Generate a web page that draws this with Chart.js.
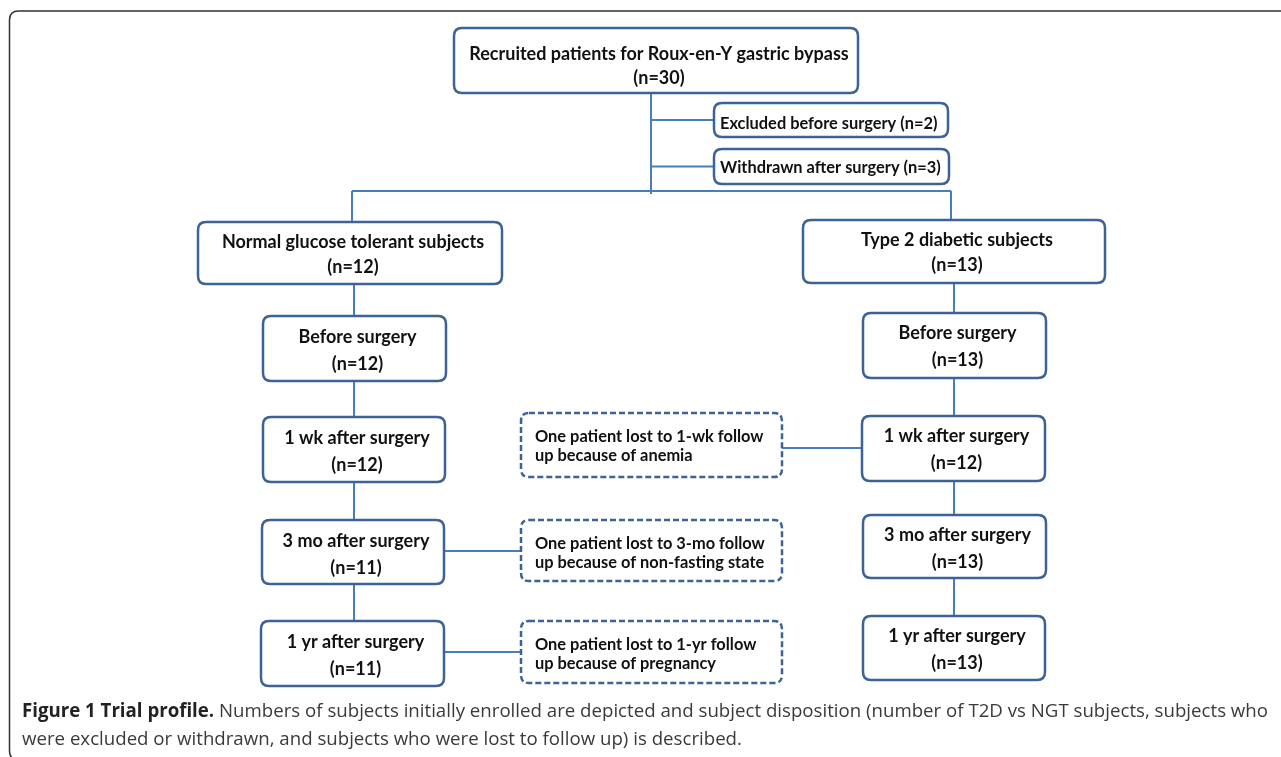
<!DOCTYPE html>
<html>
<head>
<meta charset="utf-8">
<title>Trial profile</title>
<script src="https://cdn.jsdelivr.net/npm/chart.js@4.4.1/dist/chart.umd.min.js"></script>
<style>
  html, body { margin: 0; padding: 0; background: #fff; }
  #wrap { width: 1281px; height: 757px; }
</style>
</head>
<body>
<div id="wrap"><canvas id="flow" width="1281" height="757"></canvas></div>
<script>
// data
var recruited = 30;
var excluded = 2;
var withdrawn = 3;
var groups = ['Normal glucose tolerant subjects', 'Type 2 diabetic subjects'];
var groupCounts = [12, 13];
var stages = ['Before surgery', '1 wk after surgery', '3 mo after surgery', '1 yr after surgery'];
var ngtCounts = [12, 12, 11, 11];
var t2dCounts = [13, 12, 13, 13];
var lostNotes = [
  ['One patient lost to 1-wk follow', 'up because of anemia'],
  ['One patient lost to 3-mo follow', 'up because of non-fasting state'],
  ['One patient lost to 1-yr follow', 'up because of pregnancy']
];
var captionBold = 'Figure 1 Trial profile.';
var captionText = [
  ' Numbers of subjects initially enrolled are depicted and subject disposition (number of T2D vs NGT subjects, subjects who',
  'were excluded or withdrawn, and subjects who were lost to follow up) is described.'
];

// layout (in axis units, axes run 0..1281 and 0..757)
var topBox = {x: 454, y: 28, w: 404, h: 65};
var exclBox = {x: 714, y: 103, w: 234, h: 34};
var withBox = {x: 714, y: 149, w: 235, h: 35};
var headBoxes = [{x: 198, y: 222, w: 304, h: 62}, {x: 803, y: 220, w: 302, h: 63}];
var ngtBoxes = [
  {x: 263, y: 316, w: 183, h: 65}, {x: 263, y: 417, w: 182, h: 65},
  {x: 262, y: 520, w: 182, h: 64}, {x: 261, y: 621, w: 183, h: 65}
];
var t2dBoxes = [
  {x: 863, y: 313, w: 183, h: 65}, {x: 862, y: 416, w: 183, h: 65},
  {x: 863, y: 515, w: 183, h: 63}, {x: 863, y: 616, w: 182, h: 64}
];
var noteBoxes = [
  {x: 521, y: 413, w: 261, h: 64}, {x: 521, y: 520, w: 261, h: 61}, {x: 521, y: 621, w: 261, h: 62}
];
var spineX = 651, splitY = 191, ngtX = 354, t2dX = 954;
var captionWidth = 1246;

var boxColor = '#3d6294';
var lineColor = '#4a7ebb';
var boxFont = 'bold 18px Lato, "Open Sans", sans-serif';
var smallFont = 'bold 16.4px Lato, "Open Sans", sans-serif';

function pt(x, y) { return {x: x, y: y}; }
function midY(b) { return b.y + b.h / 2; }

// connector lines, built from the boxes
var segs = [];
segs.push([pt(spineX, topBox.y + topBox.h), pt(spineX, splitY + 3)]);
segs.push([pt(spineX, midY(exclBox)), pt(exclBox.x, midY(exclBox))]);
segs.push([pt(spineX, midY(withBox)), pt(withBox.x, midY(withBox))]);
segs.push([pt(352, splitY), pt(951, splitY)]);
segs.push([pt(352, splitY), pt(352, headBoxes[0].y)]);
segs.push([pt(951, splitY), pt(951, headBoxes[1].y)]);
segs.push([pt(ngtX, headBoxes[0].y + headBoxes[0].h), pt(ngtX, ngtBoxes[3].y)]);
segs.push([pt(t2dX, headBoxes[1].y + headBoxes[1].h), pt(t2dX, t2dBoxes[3].y)]);
segs.push([pt(noteBoxes[0].x + noteBoxes[0].w, 448), pt(t2dBoxes[1].x, 448)]);
segs.push([pt(ngtBoxes[2].x + ngtBoxes[2].w, 551), pt(noteBoxes[1].x, 551)]);
segs.push([pt(ngtBoxes[3].x + ngtBoxes[3].w, 652), pt(noteBoxes[2].x, 652)]);

var datasets = segs.map(function(s) {
  return {data: s, showLine: true, borderColor: lineColor, borderWidth: 2, pointRadius: 0, fill: false};
});

function rr(ctx, x, y, w, h, r) {
  ctx.beginPath();
  ctx.moveTo(x + r, y);
  ctx.lineTo(x + w - r, y);
  ctx.quadraticCurveTo(x + w, y, x + w, y + r);
  ctx.lineTo(x + w, y + h - r);
  ctx.quadraticCurveTo(x + w, y + h, x + w - r, y + h);
  ctx.lineTo(x + r, y + h);
  ctx.quadraticCurveTo(x, y + h, x, y + h - r);
  ctx.lineTo(x, y + r);
  ctx.quadraticCurveTo(x, y, x + r, y);
  ctx.closePath();
}

var flowPlugin = {
  id: 'flow',
  beforeDatasetsDraw: function(chart) {
    var ctx = chart.ctx, sx = chart.scales.x, sy = chart.scales.y;
    ctx.save();
    ctx.strokeStyle = '#333';
    ctx.lineWidth = 1.5;
    rr(ctx, sx.getPixelForValue(9.5), sy.getPixelForValue(11), 1300, 749, 9);
    ctx.stroke();
    ctx.restore();
  },
  afterDatasetsDraw: function(chart) {
    var ctx = chart.ctx, sx = chart.scales.x, sy = chart.scales.y;

    function box(b, lines, opts) {
      opts = opts || {};
      var x = sx.getPixelForValue(b.x), y = sy.getPixelForValue(b.y);
      var w = sx.getPixelForValue(b.x + b.w) - x, h = sy.getPixelForValue(b.y + b.h) - y;
      ctx.save();
      rr(ctx, x, y, w, h, 8);
      ctx.fillStyle = '#fff';
      ctx.fill();
      ctx.lineWidth = 2.5;
      ctx.strokeStyle = boxColor;
      if (opts.dashed) ctx.setLineDash([6, 3]);
      ctx.stroke();
      ctx.setLineDash([]);
      ctx.fillStyle = '#111';
      ctx.font = opts.font || boxFont;
      ctx.textBaseline = 'middle';
      lines.forEach(function(t, i) {
        var ty = y + opts.rows[i];
        if (opts.left) {
          ctx.textAlign = 'left';
          ctx.fillText(t, x + opts.left, ty);
        } else {
          ctx.textAlign = 'center';
          ctx.fillText(t, x + w / 2 + 3, ty);
        }
      });
      ctx.restore();
    }

    box(topBox, ['Recruited patients for Roux-en-Y gastric bypass', '(n=' + recruited + ')'], {rows: [26, 50]});
    box(exclBox, ['Excluded before surgery (n=' + excluded + ')'], {rows: [21], font: smallFont, left: 6});
    box(withBox, ['Withdrawn after surgery (n=' + withdrawn + ')'], {rows: [19], font: smallFont, left: 6});
    headBoxes.forEach(function(b, i) {
      box(b, [groups[i], '(n=' + groupCounts[i] + ')'], {rows: [20, 45]});
    });
    stages.forEach(function(s, i) {
      box(ngtBoxes[i], [s, '(n=' + ngtCounts[i] + ')'], {rows: [21, 48]});
      box(t2dBoxes[i], [s, '(n=' + t2dCounts[i] + ')'], {rows: [20, 47]});
    });
    noteBoxes.forEach(function(b, i) {
      box(b, lostNotes[i], {rows: [24, 43], left: 14, font: smallFont, dashed: true});
    });
  },
  afterDraw: function(chart) {
    var ctx = chart.ctx, sx = chart.scales.x, sy = chart.scales.y;
    var x0 = sx.getPixelForValue(22);
    var bold = 'bold 19px "Open Sans", sans-serif';
    var reg = '19px "Open Sans", sans-serif';
    ctx.save();
    ctx.font = bold;
    var bw = ctx.measureText(captionBold).width;
    ctx.font = reg;
    var rw = ctx.measureText(captionText[0]).width;
    var k = captionWidth / (bw + rw); // condensed caption face
    ctx.translate(x0, 0);
    ctx.scale(k, 1);
    ctx.textBaseline = 'middle';
    ctx.textAlign = 'left';
    ctx.fillStyle = '#222';
    ctx.font = bold;
    ctx.fillText(captionBold, 0, sy.getPixelForValue(712));
    ctx.fillStyle = '#3a3a3a';
    ctx.font = reg;
    ctx.fillText(captionText[0], bw, sy.getPixelForValue(712));
    ctx.fillText(captionText[1], 0, sy.getPixelForValue(740));
    ctx.restore();
  }
};

new Chart(document.getElementById('flow').getContext('2d'), {
  type: 'scatter',
  data: {datasets: datasets},
  options: {
    responsive: false,
    animation: false,
    devicePixelRatio: 1,
    events: [],
    layout: {padding: 0},
    plugins: {legend: {display: false}, tooltip: {enabled: false}, title: {display: false}},
    scales: {
      x: {type: 'linear', min: 0, max: 1281, display: false},
      y: {type: 'linear', min: 0, max: 757, reverse: true, display: false}
    }
  },
  plugins: [flowPlugin]
});
</script>
</body>
</html>
